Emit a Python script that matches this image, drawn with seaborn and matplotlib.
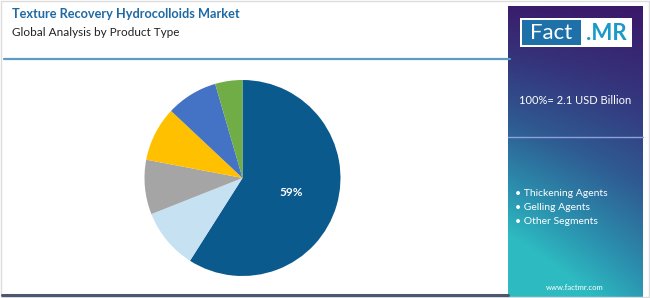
import numpy as np
import matplotlib
matplotlib.use("Agg")
import matplotlib.pyplot as plt
import seaborn as sns
from matplotlib.patches import Rectangle
from matplotlib.colors import LinearSegmentedColormap

sns.set_theme(style="white")
plt.rcParams['font.family'] = ['Lato', 'DejaVu Sans']

# ---- data ----
segments = ["Thickening Agents", "Gelling Agents", "Other Segments", "Seg 4", "Seg 5", "Seg 6"]
shares = [59, 10, 9, 9, 8.5, 4.5]
colors = ["#0b5a8e", "#c5e1f2", "#a5a5a5", "#ffc000", "#4472c4", "#70ad47"]
title = "Texture Recovery Hydrocolloids Market"
subtitle = "Global Analysis by Product Type"
total_text = "100%= 2.1 USD Billion"
legend_items = ["Thickening Agents", "Gelling Agents", "Other Segments"]
site = "www.factmr.com"

W, H = 650, 298
fig = plt.figure(figsize=(W / 100, H / 100), dpi=100)
fig.patch.set_facecolor("white")

def fx(x):
    return x / W

def fy(y):
    return 1 - y / H

# border
fig.add_artist(Rectangle((0.001, 0.002), 0.997, 0.995, transform=fig.transFigure,
                         fill=False, edgecolor="#dcdcdc", lw=1))

# titles
fig.text(fx(12), fy(14), title, color="#1f6aa5", fontsize=9.2, fontweight="bold", va="center", ha="left")
fig.text(fx(12), fy(33), subtitle, color="#222222", fontsize=8.5, va="center", ha="left")

# header line
fig.add_artist(plt.Line2D([fx(4), fx(510)], [fy(59), fy(59)], transform=fig.transFigure,
                          color="#5d9cc7", lw=1.6))
# bottom line
fig.add_artist(plt.Line2D([fx(2), fx(508)], [fy(294.5), fy(294.5)], transform=fig.transFigure,
                          color="#4b5670", lw=2.2))

# pie
cx, cy, r = 242.5, 178, 98
ax = fig.add_axes([fx(cx - r), fy(cy + r), 2 * r / W, 2 * r / H])
wedges, texts, autotexts = ax.pie(
    shares, colors=colors, startangle=90, counterclock=False,
    autopct=lambda p: f"{p:.0f}%" if p > 50 else "", pctdistance=0.52,
    wedgeprops=dict(linewidth=0), textprops=dict(color="white", fontsize=8.5, fontweight="bold"))
ax.set_xlim(-1, 1)
ax.set_ylim(-1, 1)
ax.set_aspect("equal")
ax.axis("off")

# right panel gradient
px0, px1, py0, py1 = 508, 643, 6, 298
pax = fig.add_axes([fx(px0), fy(py1), (px1 - px0) / W, (py1 - py0) / H])
ny, nx = 200, 100
yy, xx = np.mgrid[0:1:ny * 1j, 0:1:nx * 1j]
s = np.clip(0.85 * yy + 0.35 * (1 - xx) * yy + 0.05 * (1 - xx), 0, 1)
cmap = LinearSegmentedColormap.from_list("g", ["#3b1869", "#35357c", "#2f5a92", "#2b8fae", "#2ec6c6"])
pax.imshow(s, cmap=cmap, aspect="auto", extent=[0, 1, 1, 0], vmin=0, vmax=1.05)
pax.set_xlim(0, 1)
pax.set_ylim(1, 0)
pax.axis("off")

# logo
fig.add_artist(Rectangle((fx(520), fy(47)), (632 - 520) / W, (47 - 18) / H, transform=fig.transFigure,
                         facecolor="white", edgecolor="none"))
fig.add_artist(Rectangle((fx(522), fy(45)), (581 - 522) / W, (45 - 20) / H, transform=fig.transFigure,
                         facecolor="#1d70a8", edgecolor="none"))
fig.text(fx(551), fy(33), "Fact", color="white", fontsize=16, va="center", ha="center")
fig.text(fx(606), fy(33), ".MR", color="#1b9ac8", fontsize=16, fontweight="bold", va="center", ha="center")

# total
fig.text(fx(575), fy(100), total_text, color="white", fontsize=8, va="center", ha="center")
# divider
fig.add_artist(plt.Line2D([fx(508), fx(643)], [fy(137), fy(137)], transform=fig.transFigure,
                          color="#8fa0d8", lw=1))
# bullets
for i, t in enumerate(legend_items):
    fig.text(fx(515), fy(194 + 14 * i), "• " + t, color="white", fontsize=7.5, va="center", ha="left")
fig.text(fx(575), fy(287), site, color="white", fontsize=5.5, va="center", ha="center")

fig.savefig("out.png", dpi=100, facecolor="white")
